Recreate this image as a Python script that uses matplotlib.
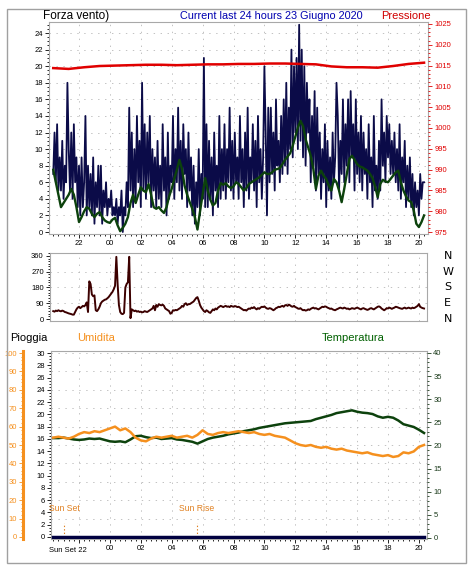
import numpy as np
import matplotlib
matplotlib.use('Agg')
import matplotlib.pyplot as plt
from matplotlib.ticker import MultipleLocator, FixedLocator
from matplotlib.patches import Rectangle

plt.rcParams['font.family'] = ['Liberation Sans', 'DejaVu Sans']
plt.rcParams['lines.scale_dashes'] = False

# ---- data (hours counted from 00:00 of the 22nd) ----
start_hour = 20 + 20 / 60

# wind gust, every 5 minutes
gust = [
    7, 12, 6, 13, 5, 9, 5, 11, 4, 8, 6, 18,
    10, 5, 12, 4, 13, 6, 9, 3, 8, 2, 9, 3,
    6, 14, 2, 8, 3, 7, 2, 9, 1, 6, 3, 8,
    2, 8, 1, 5, 3, 6, 2, 4, 3, 5, 2, 3,
    2, 4, 1, 3, 2, 5, 0, 3, 2, 6, 3, 15,
    5, 12, 3, 10, 4, 14, 6, 11, 3, 18, 5, 13,
    4, 12, 6, 14, 3, 10, 5, 9, 3, 11, 4, 8,
    3, 13, 5, 9, 2, 12, 4, 8, 6, 14, 4, 10,
    6, 15, 5, 11, 4, 13, 7, 10, 3, 12, 5, 9,
    2, 8, 1, 6, 3, 10, 2, 7, 4, 21, 3, 13,
    3, 11, 4, 9, 2, 12, 5, 8, 3, 14, 4, 10,
    5, 13, 4, 10, 6, 15, 5, 11, 4, 12, 6, 9,
    4, 14, 6, 10, 3, 12, 5, 15, 4, 9, 6, 13,
    5, 11, 3, 14, 6, 10, 4, 9, 20, 12, 2, 15,
    6, 15, 7, 12, 5, 16, 8, 11, 6, 14, 7, 16,
    8, 18, 7, 15, 10, 22, 9, 20, 12, 21, 10, 25,
    11, 22, 9, 20, 8, 18, 12, 16, 6, 14, 8, 17,
    5, 15, 7, 12, 4, 10, 6, 13, 3, 11, 5, 9,
    4, 12, 6, 9, 18, 14, 5, 11, 7, 16, 6, 13,
    8, 16, 6, 17, 9, 13, 5, 16, 7, 12, 6, 14,
    5, 12, 7, 10, 4, 13, 6, 9, 3, 14, 5, 8,
    4, 11, 5, 16, 8, 12, 6, 14, 9, 13, 7, 11,
    7, 12, 6, 10, 5, 13, 4, 9, 6, 11, 3, 8,
    4, 9, 3, 7, 2, 6, 3, 5, 2, 7, 4, 6,
    6,
]

# average wind, every 10 minutes
wind_avg = [
    7.5, 6, 4.5, 3, 3.5, 4,
    4.5, 5.2, 4.5, 3, 1.2, 1.8,
    2.5, 3, 2.8, 2.2, 1.8, 2.2,
    2.4, 1.8, 1.4, 1.2, 1.1, 1.5,
    1.7, 0.8, 0.1, 0.5, 1, 1.8,
    3.5, 4.5, 3.5, 4.5, 5.4, 5,
    4.8, 5.8, 4.5, 3, 2.8, 3,
    2.6, 2.3, 3, 4.3, 5.2, 6.4,
    7.5, 8.7, 7.6, 5.6, 4.5, 3.6,
    2.8, 1.8, 0.3, 2.5, 4.5, 6.5,
    5, 3.9, 3.2, 3.5, 5, 5.9,
    5.7, 5.9, 5.5, 5.3, 5.5, 6,
    5.8, 5.4, 5, 5.3, 5.8, 6,
    6.2, 6.4, 6.6, 6.9, 7.2, 7,
    7, 7.2, 7.5, 7.6, 7.7, 8.2,
    8.7, 9.1, 9.5, 10.4, 11.5, 12.6,
    13.4, 12.8, 11.2, 10.2, 9.2, 7.6,
    5.2, 6.8, 7.4, 6.8, 6.4, 5.6,
    5, 6.4, 6, 5, 3.6, 5.2,
    7, 8.8, 9.2, 8.7, 8.2, 7.9,
    7.8, 7.6, 7.4, 7, 6.5, 5.5,
    4.2, 5.8, 6.3, 6.1, 6, 6.4,
    6.8, 7.2, 7.4, 6, 5, 4.3,
    3.8, 3.6, 2.6, 1, 0.6, 1.2,
    2,
]

# pressure, hourly
pressure = [
    1014.4, 1014.2, 1014.6, 1014.9, 1015.0, 1015.1, 1015.2, 1015.2, 1015.1,
    1015.2, 1015.3, 1015.3, 1015.4, 1015.4, 1015.5, 1015.5, 1015.4, 1015.3,
    1014.8, 1014.6, 1014.6, 1014.5, 1014.9, 1015.4, 1015.7,
]

# wind direction, every 5 minutes
wind_dir = [
    45, 42, 48, 45, 50, 46, 44, 48, 45, 40, 38, 35,
    32, 30, 28, 25, 25, 40, 55, 65, 70, 62, 68, 75,
    72, 80, 95, 40, 215, 200, 140, 130, 135, 50, 45, 55,
    70, 90, 100, 105, 110, 112, 118, 125, 135, 145, 155, 170,
    190, 355, 200, 80, 40, 30, 28, 35, 180, 200, 210, 355,
    5, 55, 50, 45, 48, 42, 45, 40, 42, 38, 40, 45,
    42, 40, 45, 50, 55, 60, 75, 50, 80, 70, 85, 80,
    78, 82, 75, 60, 55, 50, 45, 30, 35, 50, 48, 52,
    50, 55, 60, 65, 75, 70, 85, 90, 80, 85, 85, 90,
    95, 100, 110, 120, 125, 105, 80, 65, 55, 45, 40, 50,
    45, 38, 35, 45, 55, 50, 60, 55, 65, 70, 75, 72,
    68, 72, 75, 70, 72, 68, 75, 72, 70, 74, 72, 68,
    70, 65, 60, 55, 50, 52, 48, 55, 60, 58, 65, 62,
    68, 60, 55, 62, 58, 65, 70, 68, 72, 65, 60, 58,
    62, 60, 55, 50, 55, 62, 65, 70, 68, 72, 75, 70,
    78, 80, 75, 82, 78, 72, 70, 75, 68, 65, 60, 58,
    62, 55, 50, 52, 48, 50, 55, 52, 58, 62, 65, 60,
    62, 58, 55, 60, 65, 70, 68, 72, 70, 65, 62, 58,
    60, 55, 52, 50, 55, 58, 62, 65, 62, 60, 65, 62,
    58, 60, 55, 58, 62, 60, 58, 62, 65, 62, 58, 55,
    60, 62, 58, 55, 52, 55, 60, 62, 58, 55, 60, 65,
    70, 72, 68, 60, 55, 50, 55, 62, 60, 65, 62, 58,
    62, 65, 70, 68, 65, 62, 60, 58, 62, 65, 60, 62,
    65, 62, 60, 65, 62, 65, 70, 75, 85, 70, 65, 62,
    60,
]

# humidity and temperature, every 20 minutes
humidity = [
    54, 54.5, 54, 53.5, 54.5, 56, 57, 56.5, 57.5, 57, 58, 59,
    60, 58, 59, 57, 54, 52.5, 52, 53.5, 54.5, 54, 54.5, 55,
    54, 54.5, 55, 54, 55.5, 58, 56, 55.5, 56.5, 57, 56.5, 57,
    57.5, 57, 56.5, 57, 56, 55.5, 56, 55, 54.5, 54, 52.5, 51,
    50, 49.5, 50, 49, 48.5, 49, 48, 47.5, 48, 47, 46.5, 46,
    45.5, 46, 45, 44.5, 44, 44.5, 43.5, 44, 46, 45.5, 46.5, 49,
    50,
]
temperature = [
    21.6, 21.6, 21.7, 21.5, 21.3, 21.2, 21.3, 21.5, 21.4, 21.5, 21.2, 20.9,
    20.8, 20.9, 20.7, 21.3, 22.0, 22.1, 21.8, 21.6, 21.7, 21.4, 21.5, 21.6,
    21.3, 21.2, 21.0, 20.8, 20.4, 20.9, 21.4, 21.7, 21.9, 22.1, 22.4, 22.6,
    22.8, 23.1, 23.3, 23.5, 23.8, 24.0, 24.2, 24.4, 24.6, 24.8, 24.9, 25.0,
    25.1, 25.2, 25.3, 25.7, 26.0, 26.3, 26.6, 27.0, 27.2, 27.4, 27.6, 27.3,
    27.1, 27.0, 26.8, 26.3, 26.0, 26.2, 26.0, 25.4, 24.6, 24.3, 24.0, 23.4,
    22.7,
]

# rain, hourly
rain = [0.0] * 25

sun_names = ["Sun Set", "Sun Rise"]
sun_hours = [21.03, 29.63]

hour_labels = ["22", "00", "02", "04", "06", "08", "10", "12", "14", "16", "18", "20"]
compass = ["N", "W", "S", "E", "N"]


def times(values, step_min):
    return start_hour + np.arange(len(values)) * step_min / 60


# ---- figure ----
W, H = 474, 571
fig = plt.figure(figsize=(W / 100, H / 100), dpi=100)

gridkw = dict(color='#b8b8b8', lw=0.6, ls=(0, (1, 4)))
navy = '#0b0b48'
dgreen = '#0c420c'
red = '#e00000'
orange = '#f5901e'


def px_hour(x):
    return 22 + (x - 79) / 15.45


def add_panel(left, top, right, bottom):
    ax = fig.add_axes([left / W, 1 - bottom / H, (right - left) / W, (bottom - top) / H])
    ax.set_xlim(px_hour(left), px_hour(right))
    for s in ax.spines.values():
        s.set_color('#a8a8a8')
        s.set_linewidth(0.8)
    ax.xaxis.set_major_locator(FixedLocator(np.arange(22, 45, 2)))
    ax.xaxis.set_minor_locator(MultipleLocator(1 / 3))
    ax.tick_params(which='both', direction='out', labelsize=5.5, width=0.6, pad=1.5, colors='black')
    ax.tick_params(which='major', length=3)
    ax.tick_params(which='minor', length=1.5)
    for x in np.arange(22, 45, 2):
        ax.axvline(x, zorder=0, **gridkw)
    return ax


# panel 1: wind speed and pressure
ax1 = add_panel(49, 22, 428, 234)
ax1.set_ylim(-0.24, 25.33)
ax1.yaxis.set_major_locator(MultipleLocator(2))
ax1.yaxis.set_minor_locator(MultipleLocator(0.5))
for y in np.arange(2, 25, 2):
    ax1.axhline(y, zorder=0, **gridkw)
ax1.set_xticks(np.arange(22, 45, 2))
ax1.set_xticklabels(hour_labels)
ax1.plot(times(gust, 5), gust, color=navy, lw=1.3)
ax1.plot(times(wind_avg, 10), wind_avg, color=dgreen, lw=1.7)

ax1p = ax1.twinx()
ax1p.set_ylim(974.52, 1025.48)
ax1p.yaxis.set_major_locator(MultipleLocator(5))
ax1p.yaxis.set_minor_locator(MultipleLocator(1))
ax1p.tick_params(which='both', direction='out', labelsize=5.5, width=0.6, pad=1.5, colors=red)
ax1p.tick_params(which='major', length=3)
ax1p.tick_params(which='minor', length=1.5)
for s in ax1p.spines.values():
    s.set_visible(False)
ax1p.plot(times(pressure, 60), pressure, color=red, lw=1.8)

# panel 2: wind direction
ax2 = add_panel(50, 253, 427, 321)
ax2.set_ylim(-11.4, 377)
ax2.set_yticks([0, 90, 180, 270, 360])
ax2.yaxis.set_minor_locator(MultipleLocator(15))
ax2.set_xticklabels([])
ax2.tick_params(axis='x', which='both', length=0)
for y in [90, 180, 270]:
    ax2.axhline(y, zorder=0, **gridkw)
ax2.plot(times(wind_dir, 5), wind_dir, color='#3c0000', lw=1.4)
for name, deg in zip(compass, [360, 270, 180, 90, 0]):
    ax2.text(1.055, deg, name, transform=ax2.get_yaxis_transform(),
             ha='center', va='center', fontsize=8, family='DejaVu Sans')

# panel 3: rain, humidity, temperature
ax3 = add_panel(51, 351, 427, 539)
ax3.set_ylim(-0.33, 30.33)
ax3.yaxis.set_major_locator(MultipleLocator(2))
ax3.yaxis.set_minor_locator(MultipleLocator(0.5))
for y in np.arange(3, 30.1, 3):
    ax3.axhline(y, zorder=0, **gridkw)
ax3.set_xticks(np.arange(22, 45, 2))
ax3.set_xticklabels([''] + hour_labels[1:])
ax3.text(21.26, -0.045, sun_names[0] + " " + hour_labels[0],
         transform=ax3.get_xaxis_transform(), ha='center', va='top', fontsize=5.5)
ax3.plot(times(rain, 60), rain, color='#000040', lw=2.5, zorder=3)
for name, h in zip(sun_names, sun_hours):
    ax3.plot([h, h], [0, 2.3], color='#e08020', lw=0.8, ls=(0, (1, 1.5)))
    ax3.text(h, 4.6, name, color='#e08020', ha='center', va='center', fontsize=6.2)

ax3t = ax3.twinx()
ax3t.set_ylim(-0.22, 40.43)
ax3t.yaxis.set_major_locator(MultipleLocator(5))
ax3t.yaxis.set_minor_locator(MultipleLocator(1))
ax3t.tick_params(which='both', direction='out', labelsize=5.5, width=0.6, pad=1.5, colors='#1a3a1a')
ax3t.tick_params(which='major', length=3)
ax3t.tick_params(which='minor', length=1.5)
for s in ax3t.spines.values():
    s.set_visible(False)
ax3t.plot(times(temperature, 20), temperature, color='#0d420d', lw=1.8)

ax3h = ax3.twinx()
ax3h.set_ylim(-1.09, 101.09)
for k, s in ax3h.spines.items():
    s.set_visible(k == 'left')
ax3h.spines['left'].set_position(('outward', 20))
ax3h.spines['left'].set_color(orange)
ax3h.spines['left'].set_linewidth(2.2)
ax3h.yaxis.tick_left()
ax3h.yaxis.set_major_locator(MultipleLocator(10))
ax3h.yaxis.set_minor_locator(MultipleLocator(2))
ax3h.tick_params(which='both', direction='out', labelsize=5.5, width=0.6, pad=1.5, colors=orange)
ax3h.tick_params(which='major', length=3)
ax3h.tick_params(which='minor', length=1.5)
ax3h.plot(times(humidity, 20), humidity, color=orange, lw=1.8)

# titles
def ftext(x, y, s, **kw):
    fig.text(x / W, 1 - y / H, s, va='center', ha='left', **kw)


ftext(43, 16, "Forza vento)", fontsize=8.5)
ftext(180, 16, "Current last 24 hours 23 Giugno 2020", fontsize=7.8, color='#0000b0')
ftext(381, 16, "Pressione", fontsize=8, color='#d00000')
ftext(10, 338, "Pioggia", fontsize=8)
ftext(77, 338, "Umidita", fontsize=8, color=orange)
ftext(322, 338, "Temperatura", fontsize=8, color='#006000')

fig.add_artist(Rectangle((7 / W, 1 - 563 / H), 459 / W, 554 / H, transform=fig.transFigure,
                         fill=False, ec='#a0a0a0', lw=1))

fig.savefig('out.png', dpi=100, facecolor='white')
